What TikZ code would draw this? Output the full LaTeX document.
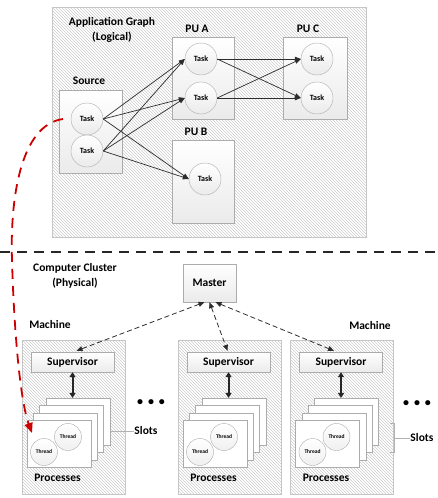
\documentclass[tikz,border=0pt]{standalone}
\usepackage{fontspec}
\setmainfont{Carlito}
\usetikzlibrary{arrows.meta}
\usetikzlibrary{calc}
\usetikzlibrary{patterns}
\usetikzlibrary{positioning}

\tikzset{
  area/.style={draw=gray!45, pattern=north west lines, pattern color=gray!40, inner sep=0pt},
  unitbox/.style={draw=gray!65, top color=white, bottom color=gray!16, inner sep=0pt,
    font=\bfseries\fontsize{11.5}{13}\selectfont},
  page/.style={draw=gray!65, fill=white, minimum width=64pt, minimum height=47pt, inner sep=0pt},
  task/.style={circle, draw=gray!65, top color=white, bottom color=gray!16, minimum size=32pt,
    inner sep=0pt, font=\bfseries\fontsize{8}{9}\selectfont},
  thread/.style={circle, draw=gray!65, top color=white, bottom color=gray!12, minimum size=27pt,
    inner sep=0pt, font=\bfseries\fontsize{5.5}{6}\selectfont},
  lbl/.style={font=\bfseries\fontsize{11.5}{15}\selectfont, align=center, inner sep=0pt},
  dots/.style={font=\bfseries\fontsize{12}{12}\selectfont, inner sep=0pt},
  flow/.style={-{Triangle[length=6pt, width=4.5pt]}, line width=0.7pt, draw=gray!35!black},
  mgmt/.style={{Triangle[length=6pt, width=5pt]}-{Triangle[length=6pt, width=5pt]},
    line width=0.8pt, dash pattern=on 5pt off 3pt, draw=gray!35!black},
  ctrl/.style={{Triangle[length=5pt, width=6pt]}-{Triangle[length=5pt, width=6pt]},
    line width=2pt, draw=gray!30!black},
  slotline/.style={draw=gray!60, line width=0.7pt},
  migrate/.style={-{Triangle[length=10pt, width=8pt]}, line width=1.8pt,
    dash pattern=on 10pt off 7pt, draw=red!80!black},
}

\begin{document}
\begin{tikzpicture}[x=1pt, y=-1pt]
  \useasboundingbox (0,0) rectangle (438,498);

  % application graph
  \node[area, minimum width=314pt, minimum height=230pt] (appl) at (209,122) {};
  \node[lbl] (appllbl) at (112,29.5) {Application Graph\\(Logical)};

  \node[unitbox, minimum width=63pt, minimum height=83pt] (src) at (90.5,131.5) {};
  \node[unitbox, minimum width=62pt, minimum height=82pt] (pua) at (203,78) {};
  \node[unitbox, minimum width=64pt, minimum height=82pt] (puc) at (315,78) {};
  \node[unitbox, minimum width=62pt, minimum height=83pt] (pub) at (203,181.5) {};
  \node[lbl] (srclbl) at (89,81) {Source};
  \node[lbl] (pualbl) at (197,29) {PU A};
  \node[lbl] (puclbl) at (308,29) {PU C};
  \node[lbl] (publbl) at (196,132) {PU B};

  \node[task] (s1) at (87,119) {Task};
  \node[task] (s2) at (87,151) {Task};
  \node[task] (a1) at (201,59) {Task};
  \node[task] (a2) at (201,98) {Task};
  \node[task] (c1) at (317,59) {Task};
  \node[task] (c2) at (317,98) {Task};
  \node[task] (b1) at (205,179) {Task};

  % streams
  \foreach \s in {s1, s2} {
    \foreach \t in {a1, a2, b1}
      \draw[flow] (\s.east) -- (\t.west);
  }
  \foreach \s in {a1, a2} {
    \foreach \t in {c1, c2}
      \draw[flow] (\s.east) -- (\t.west);
  }

  % divider
  \draw[line width=1.6pt, dash pattern=on 10pt off 7pt, gray!30!black] (0,252) -- (438,252);

  % computer cluster
  \node[lbl] (clusterlbl) at (75,276) {Computer Cluster\\(Physical)};
  \node[unitbox, minimum width=53pt, minimum height=38pt] (master) at (209.5,283) {Master};

  \foreach \m/\cx in {L/73.5, M/229.5, R/342} {
    \node[area, minimum width=103pt, minimum height=154pt] (mach\m) at (\cx,417) {};
    \node[unitbox, minimum width=83pt, minimum height=20pt] (sup\m) at ({\cx-1},362) {Supervisor};
    \foreach \k in {3,2,1,0}
      \node[page] (page\m\k) at ({\cx-14.5+6.3*\k},{443.5-7.3*\k}) {};
    \node[thread] (th\m a) at ({\cx-29.5},452) {Thread};
    \node[thread] (th\m b) at ({\cx-5.5},437) {Thread};
    \draw[ctrl] (sup\m.south) -- (sup\m.south |- page\m3.north);
    \node[lbl] (proc\m) at ({\cx-16},478) {Processes};
  }

  \node[lbl] (machLlbl) at (50,325) {Machine};
  \node[lbl] (machRlbl) at (370,326) {Machine};

  \draw[mgmt] ($(master.south)+(-5,0)$) -- ($(supL.north)+(4,-1)$);
  \draw[mgmt] ($(master.south)+(0,0)$) -- ($(supM.north)+(-1,-1)$);
  \draw[mgmt] ($(master.south)+(6,0)$) -- ($(supR.north)+(-7,-1)$);

  % slots
  \node[lbl] (slotsL) at (146,431) {Slots};
  \draw[slotline] (pageL3.east |- slotsL) -- (slotsL.west);
  \node[lbl] (slotsR) at (422,438) {Slots};
  \draw[slotline] (slotsR.west) -- ++(-16,0) coordinate (brk);
  \draw[slotline] ($(brk)+(-4,-14.5)$) -- ++(4,0) -- ++(0,29) -- ++(-4,0);

  \node[dots] (dotsA) at (151,403) {\textbullet\hspace{5pt}\textbullet\hspace{5pt}\textbullet};
  \node[dots] (dotsB) at (417,404) {\textbullet\hspace{5pt}\textbullet\hspace{5pt}\textbullet};

  % placement of a task on a slot
  \coordinate (migstart) at (63,119);
  \coordinate (migend) at (32,433);
  \draw[migrate] (migstart) .. controls (20,125) and (10,200) .. (12,260)
    .. controls (14,330) and (20,400) .. (migend);

\end{tikzpicture}
\end{document}
